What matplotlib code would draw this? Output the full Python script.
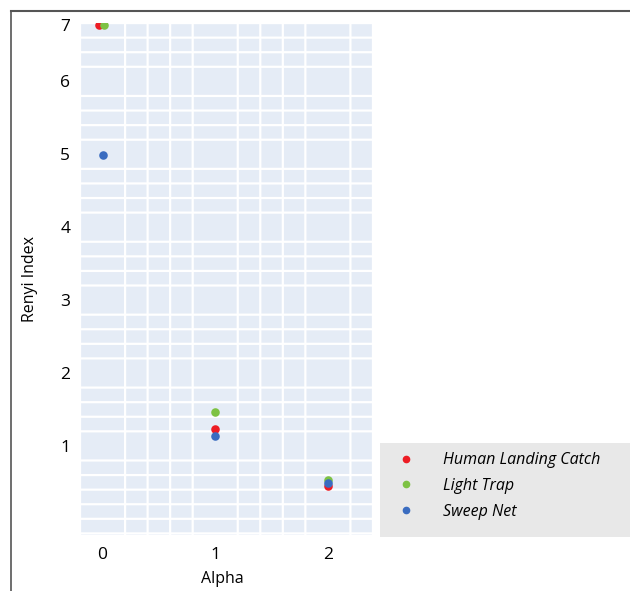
import numpy as np
import matplotlib.pyplot as plt
from matplotlib.lines import Line2D
from matplotlib.patches import Rectangle

plt.rcParams['font.family'] = ['Open Sans', 'DejaVu Sans']
plt.rcParams['path.snap'] = False

# Renyi profile values
series = ['Human Landing Catch', 'Light Trap', 'Sweep Net']
colors = ['#ED1C24', '#7DC243', '#3A6CC0']
alpha_x = {
    'Human Landing Catch': [-0.03, 1, 2],
    'Light Trap': [0.01, 1, 2],
    'Sweep Net': [0.0, 1, 2],
}
renyi = {
    'Human Landing Catch': [6.77, 1.23, 0.45],
    'Light Trap': [6.77, 1.47, 0.53],
    'Sweep Net': [4.99, 1.14, 0.49],
}
x_ticks = [0, 1, 2]
y_ticks = [1, 2, 3, 4, 5, 6, 6.77]
y_labels = ['1', '2', '3', '4', '5', '6', '7']

fig = plt.figure(figsize=(6.3, 5.91), dpi=100)
ax = fig.add_axes([0.127, 0.095, 0.465, 0.866])
ax.set_facecolor('#E5ECF6')

for name, c in zip(series, colors):
    ax.scatter(alpha_x[name], renyi[name], s=38, color=c, zorder=3,
               linewidths=0, label=name)

ax.set_xlim(-0.2, 2.4)
ax.set_ylim(-0.22, 6.8)
ax.set_xticks(np.round(np.arange(-0.2, 2.41, 0.2), 2), minor=True)
ax.set_yticks(np.round(np.arange(-0.2, 6.81, 0.2), 2), minor=True)
ax.set_xticks(x_ticks)
ax.set_yticks(y_ticks)
ax.set_yticklabels(y_labels)
ax.grid(True, which='minor', color='white', linewidth=1.6)
ax.grid(False, which='major')
ax.set_axisbelow(True)
ax.tick_params(which='both', length=0)
ax.tick_params(axis='y', pad=7, labelsize=12.5)
ax.tick_params(axis='x', pad=9, labelsize=12.5)
for s in ax.spines.values():
    s.set_visible(False)

ax.set_xlabel('Alpha', fontsize=11.5)
ax.set_ylabel('Renyi Index', fontsize=11.5)
ax.xaxis.set_label_coords(0.486, -0.07)
ax.yaxis.set_label_coords(-0.145, 0.5)

# grey legend box on the right
fig.add_artist(Rectangle((380 / 630, 1 - 537 / 591), 260 / 630, 94 / 591,
                         transform=fig.transFigure, facecolor='#E8E8E8',
                         edgecolor='none', zorder=0))
handles = [Line2D([], [], marker='o', linestyle='none', color=c, markersize=4.5)
               for c in colors]
fig.legend(handles, series, loc='center left',
           bbox_to_anchor=(376 / 630, 1 - 486 / 591), frameon=False,
           prop={'style': 'italic', 'size': 11.5}, handletextpad=1.3,
           labelspacing=0.6)

# frame lines on the left and top of the image
fig.add_artist(Line2D([11 / 630, 11 / 630], [0, 1 - 11 / 591],
                      transform=fig.transFigure, color='#555555', linewidth=1.2))
fig.add_artist(Line2D([11 / 630, 1], [1 - 11 / 591, 1 - 11 / 591],
                      transform=fig.transFigure, color='#555555', linewidth=1.5))

fig.savefig('out.png', dpi=100)
